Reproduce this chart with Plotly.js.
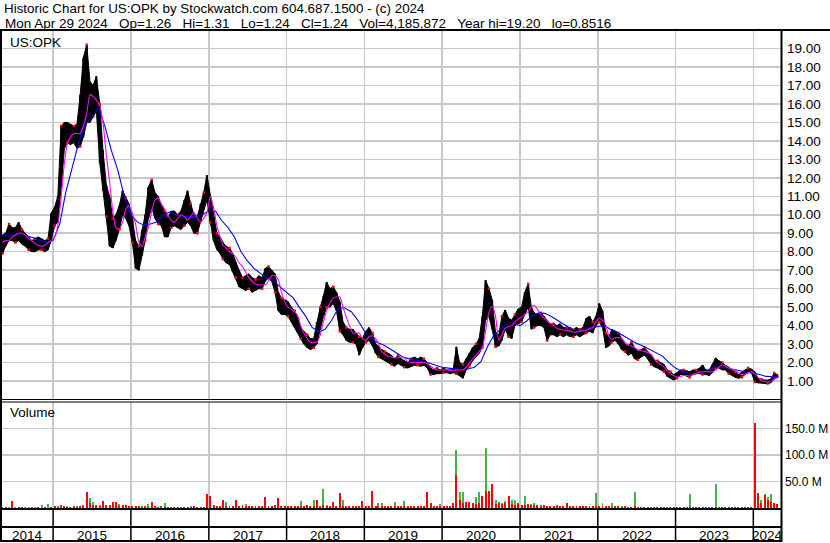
<!DOCTYPE html>
<html>
<head>
<meta charset="utf-8">
<script src="https://cdn.plot.ly/plotly-3.0.1.min.js"></script>
<style>html,body{margin:0;padding:0;background:#fff;}#chart{width:830px;height:543px;}</style>
</head>
<body>
<div id="chart"></div>
<script>
// ---------------- DATA ----------------
const headerLine1 = 'Historic Chart for US:OPK by Stockwatch.com 604.687.1500 - (c) 2024';
const headerLine2 = 'Mon Apr 29 2024  Op=1.26  Hi=1.31  Lo=1.24  Cl=1.24  Vol=4,185,872  Year hi=19.20  lo=0.8516';
const symbolLabel = 'US:OPK';
const volumeLabel = 'Volume';
const yearLabels = ['2014','2015','2016','2017','2018','2019','2020','2021','2022','2023','2024'];
const priceTicks = [1,2,3,4,5,6,7,8,9,10,11,12,13,14,15,16,17,18,19];
const volumeTicks = [50,100,150];

// half-month bars
const dates = [
'2014-05-08','2014-05-23','2014-06-08','2014-06-23','2014-07-08','2014-07-23','2014-08-08','2014-08-23','2014-09-08','2014-09-23','2014-10-08','2014-10-23','2014-11-08','2014-11-23','2014-12-08','2014-12-23',
'2015-01-08','2015-01-23','2015-02-08','2015-02-23','2015-03-08','2015-03-23','2015-04-08','2015-04-23','2015-05-08','2015-05-23','2015-06-08','2015-06-23','2015-07-08','2015-07-23','2015-08-08','2015-08-23','2015-09-08','2015-09-23','2015-10-08','2015-10-23','2015-11-08','2015-11-23','2015-12-08','2015-12-23',
'2016-01-08','2016-01-23','2016-02-08','2016-02-23','2016-03-08','2016-03-23','2016-04-08','2016-04-23','2016-05-08','2016-05-23','2016-06-08','2016-06-23','2016-07-08','2016-07-23','2016-08-08','2016-08-23','2016-09-08','2016-09-23','2016-10-08','2016-10-23','2016-11-08','2016-11-23','2016-12-08','2016-12-23',
'2017-01-08','2017-01-23','2017-02-08','2017-02-23','2017-03-08','2017-03-23','2017-04-08','2017-04-23','2017-05-08','2017-05-23','2017-06-08','2017-06-23','2017-07-08','2017-07-23','2017-08-08','2017-08-23','2017-09-08','2017-09-23','2017-10-08','2017-10-23','2017-11-08','2017-11-23','2017-12-08','2017-12-23',
'2018-01-08','2018-01-23','2018-02-08','2018-02-23','2018-03-08','2018-03-23','2018-04-08','2018-04-23','2018-05-08','2018-05-23','2018-06-08','2018-06-23','2018-07-08','2018-07-23','2018-08-08','2018-08-23','2018-09-08','2018-09-23','2018-10-08','2018-10-23','2018-11-08','2018-11-23','2018-12-08','2018-12-23',
'2019-01-08','2019-01-23','2019-02-08','2019-02-23','2019-03-08','2019-03-23','2019-04-08','2019-04-23','2019-05-08','2019-05-23','2019-06-08','2019-06-23','2019-07-08','2019-07-23','2019-08-08','2019-08-23','2019-09-08','2019-09-23','2019-10-08','2019-10-23','2019-11-08','2019-11-23','2019-12-08','2019-12-23',
'2020-01-08','2020-01-23','2020-02-08','2020-02-23','2020-03-08','2020-03-23','2020-04-08','2020-04-23','2020-05-08','2020-05-23','2020-06-08','2020-06-23','2020-07-08','2020-07-23','2020-08-08','2020-08-23','2020-09-08','2020-09-23','2020-10-08','2020-10-23','2020-11-08','2020-11-23','2020-12-08','2020-12-23',
'2021-01-08','2021-01-23','2021-02-08','2021-02-23','2021-03-08','2021-03-23','2021-04-08','2021-04-23','2021-05-08','2021-05-23','2021-06-08','2021-06-23','2021-07-08','2021-07-23','2021-08-08','2021-08-23','2021-09-08','2021-09-23','2021-10-08','2021-10-23','2021-11-08','2021-11-23','2021-12-08','2021-12-23',
'2022-01-08','2022-01-23','2022-02-08','2022-02-23','2022-03-08','2022-03-23','2022-04-08','2022-04-23','2022-05-08','2022-05-23','2022-06-08','2022-06-23','2022-07-08','2022-07-23','2022-08-08','2022-08-23','2022-09-08','2022-09-23','2022-10-08','2022-10-23','2022-11-08','2022-11-23','2022-12-08','2022-12-23',
'2023-01-08','2023-01-23','2023-02-08','2023-02-23','2023-03-08','2023-03-23','2023-04-08','2023-04-23','2023-05-08','2023-05-23','2023-06-08','2023-06-23','2023-07-08','2023-07-23','2023-08-08','2023-08-23','2023-09-08','2023-09-23','2023-10-08','2023-10-23','2023-11-08','2023-11-23','2023-12-08','2023-12-23',
'2024-01-08','2024-01-23','2024-02-08','2024-02-23','2024-03-08','2024-03-23','2024-04-08','2024-04-23'
];

const high = [
8.9,9.0,9.5,9.3,9.3,9.6,9.2,9.0,8.8,8.6,8.7,8.8,8.7,8.6,8.7,10.1,
10.4,11.0,14.8,15.0,15.0,14.9,14.8,14.9,16.5,18.5,19.2,17.2,17.0,17.5,16.0,13.5,11.6,11.0,9.8,10.0,10.5,11.3,10.9,10.6,
9.8,8.6,8.3,9.2,10.0,11.5,11.9,11.2,11.0,10.5,10.2,9.8,10.2,10.2,10.0,10.2,10.8,11.3,10.6,10.0,9.9,10.6,11.2,12.15,
11.0,9.9,9.0,8.8,8.5,8.3,8.2,7.9,7.4,7.0,6.6,6.7,6.8,6.6,6.5,6.7,6.6,7.1,7.2,7.0,6.8,5.8,5.5,5.4,
5.3,5.0,4.8,4.4,3.9,3.7,3.5,3.3,3.3,4.2,5.0,5.6,6.36,6.0,6.1,5.8,5.3,4.2,3.9,3.8,3.8,3.6,3.4,3.3,
3.7,3.9,3.6,3.0,2.9,2.7,2.6,2.5,2.4,2.2,2.4,2.2,2.1,2.0,2.2,2.3,2.2,2.3,2.2,2.0,1.7,1.6,1.7,1.6,
1.7,1.6,1.6,1.7,2.85,2.0,1.9,2.2,2.5,2.8,3.0,3.3,4.5,6.47,6.0,5.4,3.6,3.5,4.5,4.85,4.4,4.3,4.6,4.9,
5.0,5.8,6.25,5.0,4.7,4.6,4.7,4.5,4.3,4.1,4.1,4.0,4.1,3.9,3.9,3.9,3.8,3.9,3.8,3.9,4.4,4.5,4.2,4.5,
5.2,4.8,3.6,3.4,3.8,3.7,3.6,3.3,3.0,2.9,3.1,2.8,2.6,2.7,2.8,2.6,2.4,2.1,2.1,2.0,1.9,1.6,1.5,1.35,
1.45,1.6,1.6,1.55,1.5,1.6,1.6,1.7,1.87,1.6,1.6,1.9,2.25,2.1,2.0,1.85,1.75,1.6,1.5,1.35,1.5,1.6,1.7,1.65,
1.5,1.15,1.1,1.05,1.05,1.1,1.43,1.35
];
const low = [
7.9,8.3,8.6,8.6,8.5,8.6,8.4,8.3,8.1,8.0,8.0,8.1,8.1,8.0,8.1,8.6,
9.4,9.6,11.5,13.6,13.9,13.8,13.9,13.6,13.7,14.2,15.0,15.0,15.3,15.6,12.8,11.3,9.9,8.3,8.2,8.6,9.2,10.0,9.8,9.4,
8.5,7.1,7.0,7.8,8.6,9.8,10.4,9.8,9.5,9.4,8.8,8.8,9.3,9.4,9.3,9.2,9.4,9.6,9.4,9.0,9.0,9.6,10.3,10.8,
9.6,8.6,8.1,7.9,7.6,7.4,7.3,6.9,6.6,6.1,6.0,5.9,6.0,5.8,5.9,6.0,6.0,6.4,6.6,6.4,5.8,4.8,4.6,4.6,
4.5,4.2,3.9,3.6,3.3,3.0,2.8,2.7,2.8,3.0,3.8,4.5,5.0,5.0,5.2,4.8,3.7,3.5,3.2,3.1,3.1,3.0,2.4,2.8,
3.1,3.2,2.9,2.5,2.3,2.2,2.1,2.0,1.9,1.8,1.95,1.85,1.75,1.7,1.8,1.85,1.85,1.8,1.85,1.7,1.35,1.35,1.4,1.4,
1.45,1.45,1.4,1.45,1.4,1.3,1.15,1.6,1.8,2.1,2.3,2.5,2.8,4.3,4.5,3.8,2.85,2.9,3.2,3.8,3.4,3.3,4.0,4.1,
4.2,4.6,5.0,3.8,3.9,4.0,4.0,3.9,3.2,3.5,3.5,3.4,3.5,3.4,3.5,3.4,3.4,3.5,3.4,3.5,3.6,3.7,3.6,4.0,
4.2,3.9,2.8,2.9,3.1,3.2,3.0,2.7,2.6,2.4,2.5,2.2,2.15,2.3,2.4,2.2,1.9,1.77,1.7,1.6,1.5,1.25,1.15,1.05,
1.15,1.35,1.35,1.25,1.2,1.35,1.4,1.4,1.35,1.35,1.3,1.45,1.7,1.7,1.6,1.6,1.4,1.3,1.2,1.15,1.2,1.35,1.45,1.45,
0.95,0.9,0.88,0.85,0.86,0.9,1.1,1.2
];
// short moving average (magenta)
const maShort = [
8.5,8.6,8.6,8.8,8.9,9.0,9.0,8.9,8.7,8.6,8.45,8.35,8.3,8.35,8.5,8.6,
8.8,9.4,11.0,12.8,13.8,14.2,14.4,14.4,14.4,14.8,15.5,16.5,16.4,16.2,15.9,15.0,13.2,11.8,10.2,9.3,9.2,9.6,10.3,10.5,
10.1,9.5,8.5,8.3,8.8,9.3,10.2,10.8,10.9,10.6,10.3,10.0,9.7,9.6,9.8,10.0,9.9,9.7,9.9,10.15,9.8,9.6,9.8,10.1,
11.0,10.4,9.4,8.8,8.35,8.2,8.0,7.9,7.7,7.4,7.2,6.9,6.6,6.4,6.25,6.2,6.2,6.2,6.4,6.7,6.7,6.5,5.8,5.3,
5.0,4.9,4.75,4.5,4.0,3.6,3.3,3.1,3.1,3.1,3.5,4.2,4.8,5.2,5.5,5.55,5.55,5.0,4.47,4.0,3.6,3.6,3.6,3.3,
3.2,3.4,3.45,3.3,3.05,2.6,2.45,2.35,2.3,2.25,2.25,2.3,2.25,2.05,2.0,2.0,2.0,2.0,2.0,1.95,1.8,1.68,1.6,1.6,
1.6,1.6,1.58,1.58,1.6,1.6,1.6,1.75,1.97,2.2,2.4,2.6,2.8,3.7,4.7,5.05,4.5,3.2,3.5,3.85,3.95,4.0,4.2,4.35,
4.45,4.6,4.75,5.0,5.1,4.9,4.6,4.4,4.25,4.1,4.0,3.85,3.8,3.75,3.75,3.7,3.65,3.65,3.7,3.72,3.75,3.85,3.9,4.2,
4.4,4.3,4.0,3.4,3.25,3.35,3.35,3.3,3.1,2.95,2.9,2.8,2.7,2.65,2.6,2.55,2.45,2.2,2.0,1.9,1.75,1.55,1.4,1.3,
1.22,1.25,1.3,1.3,1.27,1.35,1.42,1.48,1.5,1.5,1.5,1.5,1.6,1.75,1.87,1.8,1.7,1.62,1.55,1.45,1.35,1.38,1.45,1.5,
1.4,1.2,1.02,0.98,0.95,0.97,1.12,1.17
];
// long moving average (blue), monthly readings
const maLongDates = [
'2014-05-01','2014-06-01','2014-07-01','2014-08-01','2014-09-01','2014-10-01','2014-11-01','2014-12-01',
'2015-01-01','2015-02-01','2015-03-01','2015-04-01','2015-05-01','2015-06-01','2015-07-01','2015-08-01','2015-09-01','2015-10-01','2015-11-01','2015-12-01',
'2016-01-01','2016-02-01','2016-03-01','2016-04-01','2016-05-01','2016-06-01','2016-07-01','2016-08-01','2016-09-01','2016-10-01','2016-11-01','2016-12-01',
'2017-01-01','2017-02-01','2017-03-01','2017-04-01','2017-05-01','2017-06-01','2017-07-01','2017-08-01','2017-09-01','2017-10-01','2017-11-01','2017-12-01',
'2018-01-01','2018-02-01','2018-03-01','2018-04-01','2018-05-01','2018-06-01','2018-07-01','2018-08-01','2018-09-01','2018-10-01','2018-11-01','2018-12-01',
'2019-01-01','2019-02-01','2019-03-01','2019-04-01','2019-05-01','2019-06-01','2019-07-01','2019-08-01','2019-09-01','2019-10-01','2019-11-01','2019-12-01',
'2020-01-01','2020-02-01','2020-03-01','2020-04-01','2020-05-01','2020-06-01','2020-07-01','2020-08-01','2020-09-01','2020-10-01','2020-11-01','2020-12-01',
'2021-01-01','2021-02-01','2021-03-01','2021-04-01','2021-05-01','2021-06-01','2021-07-01','2021-08-01','2021-09-01','2021-10-01','2021-11-01','2021-12-01',
'2022-01-01','2022-02-01','2022-03-01','2022-04-01','2022-05-01','2022-06-01','2022-07-01','2022-08-01','2022-09-01','2022-10-01','2022-11-01','2022-12-01',
'2023-01-01','2023-02-01','2023-03-01','2023-04-01','2023-05-01','2023-06-01','2023-07-01','2023-08-01','2023-09-01','2023-10-01','2023-11-01','2023-12-01',
'2024-01-01','2024-02-01','2024-03-01','2024-04-01','2024-04-29'
];
const maLong = [
8.9,8.9,8.9,8.9,8.85,8.75,8.6,8.5,
8.6,9.5,11.2,12.5,13.9,14.9,15.2,15.8,14.8,13.5,12.4,11.0,
10.0,9.6,9.45,9.5,9.6,10.0,10.15,10.0,9.9,9.9,9.9,10.0,
10.2,10.2,9.7,9.3,8.8,8.0,7.5,7.1,6.8,6.55,6.4,6.1,
5.8,5.5,5.0,4.5,3.9,3.65,3.8,4.3,4.95,4.95,4.75,4.3,
3.7,3.35,3.1,2.95,2.75,2.5,2.3,2.2,2.12,2.05,1.98,1.85,
1.75,1.7,1.65,1.62,1.65,1.75,2.05,2.85,3.5,3.8,4.1,4.13,
4.0,4.25,4.55,4.7,4.65,4.47,4.25,4.05,3.8,3.77,3.75,3.85,
3.95,4.0,3.8,3.65,3.45,3.25,3.05,2.9,2.7,2.55,2.35,2.0,
1.7,1.5,1.42,1.38,1.45,1.55,1.75,1.75,1.72,1.62,1.55,1.5,
1.43,1.35,1.25,1.22,1.22
];
// volume in millions (up days green, down days red), one slot per half month
const volUp = [
2,0,1.5,0,2,0,0,1.5,2,0,1.5,0,5,0,8,0,
2,3,5,2,3,2,1.5,4,3,5,6,19,11,4,5,3,6,4,3,5,8,4,3,2,
3,2,2,3,2,8,3,2,2,3,10,2,2,1.5,2,2,1.5,2,3,2,2,1.5,2,3,
5,4,3,3,5,11,4,4,3,4,3,7,3,4,3,3,2,4,3,3,2,3,3,3,
3,4,3,4,13,4,3,4,16,5,4,35,6,4,5,4,4,16,4,3,3,4,3,4,
4,3,3,4,10,10,3,4,3,12,4,3,13,3,3,4,3,4,3,4,4,3,4,7,
4,3,4,8,110,30,30,10,8,6,20,30,8,113,25,12,15,12,10,14,9,15,15,10,
5,23,6,8,10,5,6,4,3,4,3,5,3,4,3,3,4,3,4,3,4,3,4,28,
3,9,3,3,10,3,2,3,2,2,2,30,2,2,2,2,2,2,2,1.5,2,2,2,2,
2,1.5,2,1.5,27,2,1.5,2,2,1.5,2,1.5,45,2,1.5,2,2,1.5,2,2,1.5,2,1.5,2,
72,12,15,27,20,27,10,8
];
const volDown = [
0,2,0,12.6,0,2,1.5,0,0,1.5,0,2,0,2,0,2.5,
3,2,6,3,2,2,3,2,4,3,29.6,10,5,6,4,12.6,5,6,11,11,4,6,5,4,
4,3,3,2,4,2,11,3,2,3,2,2,1.5,2,1.5,2,2,1.5,2,3,2,2,1.5,26,
22,6,3,4,14.5,4,3,4,16,4,5,3,3,3,4,3,4,20,4,3,5,18,4,3,
4,3,4,3,4,3,5,3,4,15,4,5,4,4,11,4,27.7,4,4,3,4,3,4,14,
3,4,31.5,3,4,3,4,3,4,3,3,4,3,4,4,3,4,3,4,30,9,4,3,4,
3,4,3,10,63,16,10,12,12,9,7,10,22,33,33,46,8,10,8,9,22,8,6,9,
6,5,7,6,5,6,4,5,4,3,4,3,4,3,9,4,3,4,3,4,3,4,3,3,
4,3,4,3,2,3,3,2,3,2,2,3,2,2,1.5,2,2,1.5,2,2,1.5,2,2,2,
1.5,2,1.5,2,1.5,2,2,1.5,2,2,1.5,2,2,1.5,2,2,1.5,2,1.5,2,2,1.5,2,1.5,
160,28,10,25,15,12,9,8
];

// ---------------- CHART ----------------
const W = 830, H = 543;
const px = v => v / W;
const py = v => 1 - v / H;

const segX = [], segY = [];
dates.forEach((d, i) => { segX.push(d, d, null); segY.push(low[i], high[i], null); });
// small red ticks at some bar ends
const tickX = [], tickY = [];
dates.forEach((d, i) => {
  if (i % 4 === 0) { tickX.push(d); tickY.push(low[i]); }
  else if (i % 4 === 2) { tickX.push(d); tickY.push(high[i]); }
});

const traces = [
  {type:'scatter', mode:'lines', x:dates, y:low, xaxis:'x', yaxis:'y',
   line:{color:'#000', width:1}, hoverinfo:'skip'},
  {type:'scatter', mode:'lines', x:dates, y:high, xaxis:'x', yaxis:'y', fill:'tonexty', fillcolor:'#000',
   line:{color:'#000', width:1}, hoverinfo:'skip'},
  {type:'scatter', mode:'lines', x:segX, y:segY, xaxis:'x', yaxis:'y',
   line:{color:'#000000', width:2}, hoverinfo:'skip', connectgaps:false},
  {type:'scatter', mode:'markers', x:tickX, y:tickY, xaxis:'x', yaxis:'y',
   marker:{color:'#ff0000', size:2.5, symbol:'square', line:{width:0}}, hoverinfo:'skip'},
  {type:'scatter', mode:'lines', x:maLongDates, y:maLong, xaxis:'x', yaxis:'y',
   line:{color:'#0000ff', width:1.1}},
  {type:'scatter', mode:'lines', x:dates, y:maShort, xaxis:'x', yaxis:'y',
   line:{color:'#ff00ff', width:1.1, shape:'spline', smoothing:0.6}},
  {type:'bar', x:dates, y:volUp, xaxis:'x', yaxis:'y2',
   marker:{color:'#44b544', line:{width:0}}, width:8e8},
  {type:'bar', x:dates, y:volDown, xaxis:'x', yaxis:'y2',
   marker:{color:'#ff0000', line:{width:0}}, width:8e8}
];

const nb = s => s.replace(/  /g, '\u00a0\u00a0\u00a0');
const annotations = [
  {xref:'paper', yref:'paper', x:px(2), y:py(8.5), xanchor:'left', yanchor:'middle', text:nb(headerLine1), showarrow:false, font:{size:13.4}},
  {xref:'paper', yref:'paper', x:px(3), y:py(23.5), xanchor:'left', yanchor:'middle', text:nb(headerLine2), showarrow:false, font:{size:13.5}},
  {xref:'paper', yref:'paper', x:px(8), y:py(42), xanchor:'left', yanchor:'middle', text:symbolLabel, showarrow:false, font:{size:13.5}},
  {xref:'paper', yref:'paper', x:px(8), y:py(413), xanchor:'left', yanchor:'middle', text:volumeLabel, showarrow:false, font:{size:13.5}}
];
// year labels centred in their cells
const viewStart = '2014-05-06', viewEnd = '2024-05-10';
const toMs = s => new Date(s + 'T00:00:00Z').getTime();
const iso = ms => new Date(ms).toISOString().slice(0, 10);
yearLabels.forEach(y => {
  const a = Math.max(toMs(y + '-01-01'), toMs(viewStart));
  const b = Math.min(toMs((+y + 1) + '-01-01'), toMs(viewEnd));
  annotations.push({xref:'x', yref:'paper', x:iso((a + b) / 2), y:py(535), xanchor:'center', yanchor:'middle',
    text:y, showarrow:false, font:{size:13.5}});
});

const shapes = [];
const hline = (y, x0, x1, w) => shapes.push({type:'line', xref:'paper', yref:'paper', x0:px(x0), x1:px(x1), y0:py(y), y1:py(y), line:{color:'#000', width:w}});
const vline = (x, y0, y1, w) => shapes.push({type:'line', xref:'paper', yref:'paper', x0:px(x), x1:px(x), y0:py(y0), y1:py(y1), line:{color:'#000', width:w}});
hline(30, 0, 830, 2);
hline(399.5, 0, 782, 1.2);
hline(402, 0, 782, 1.2);
hline(509, 0, 782, 2);
hline(527, 0, 782, 2);
hline(541, 0, 782, 2);
vline(1, 30, 542, 2);
vline(781.5, 30, 542, 2);
yearLabels.slice(1).forEach(y => {
  shapes.push({type:'line', xref:'x', yref:'paper', x0:y + '-01-01', x1:y + '-01-01', y0:py(509), y1:py(541), line:{color:'#000', width:1.5}});
});

const layout = {
  width:W, height:H, margin:{l:0, r:0, t:0, b:0, pad:0},
  paper_bgcolor:'#ffffff', plot_bgcolor:'#ffffff', showlegend:false,
  font:{family:'"Liberation Sans", Arial, sans-serif', size:13, color:'#000'},
  barmode:'overlay', bargap:0,
  xaxis:{type:'date', domain:[px(2), px(781)], range:[viewStart, viewEnd], anchor:'y2',
    tick0:'2015-01-01', dtick:'M12', showticklabels:false, ticks:'', showgrid:true,
    gridcolor:'#c8c8c8', gridwidth:1.5, zeroline:false, showline:false, fixedrange:true},
  yaxis:{domain:[py(399.5), py(30)], range:[0, 20], side:'right', anchor:'x',
    tickvals:priceTicks, ticktext:priceTicks.map(v => v.toFixed(2)), ticks:'', ticklabelstandoff:5,
    showgrid:true, gridcolor:'#c8c8c8', gridwidth:1.5, zeroline:false, showline:false,
    tickfont:{size:13.5}},
  yaxis2:{domain:[py(508), py(402)], range:[0, 200], side:'right', anchor:'x',
    tickvals:volumeTicks, ticktext:volumeTicks.map(v => v.toFixed(1) + ' M'), ticks:'', ticklabelstandoff:3,
    showgrid:true, gridcolor:'#c8c8c8', gridwidth:1.5, zeroline:false, showline:false,
    tickfont:{size:12}},
  annotations, shapes
};

Plotly.newPlot('chart', traces, layout, {staticPlot:true, displayModeBar:false});
</script>
</body>
</html>
